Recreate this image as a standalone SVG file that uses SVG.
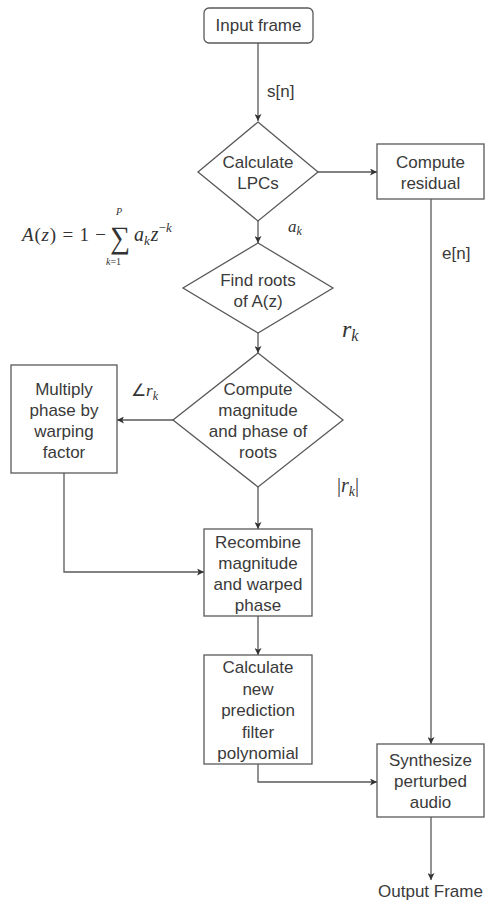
<svg xmlns="http://www.w3.org/2000/svg" width="488" height="901" viewBox="0 0 488 901">
<defs>
<marker id="arr" viewBox="0 0 10 10" refX="10" refY="5" markerWidth="7" markerHeight="7" markerUnits="userSpaceOnUse" orient="auto">
<path d="M0,0 L10,5 L0,10 L2.5,5 Z" fill="#333"/>
</marker>
</defs>
<style>
.n{fill:#fff;stroke:#595959;stroke-width:1.3}
.t{font-family:"Liberation Sans",Arial,sans-serif;font-size:17px;fill:#3a3a3a;text-anchor:middle;dominant-baseline:central}
.c{fill:none;stroke:#595959;stroke-width:1.3}
.m{font-family:"Liberation Serif","Times New Roman",serif;font-style:italic;fill:#333}
.mu{font-family:"Liberation Serif","Times New Roman",serif;font-style:normal;fill:#333}
</style>
<rect width="488" height="901" fill="#fff"/>
<g id="connectors">
<path class="c" d="M258,43 V121" marker-end="url(#arr)"/>
<path class="c" d="M318,172 H377" marker-end="url(#arr)"/>
<path class="c" d="M258,221 V243" marker-end="url(#arr)"/>
<path class="c" d="M258,333 V353" marker-end="url(#arr)"/>
<path class="c" d="M173,420 H117" marker-end="url(#arr)"/>
<path class="c" d="M258,487 V529" marker-end="url(#arr)"/>
<path class="c" d="M64,473 V572 H204" marker-end="url(#arr)"/>
<path class="c" d="M258,616 V655" marker-end="url(#arr)"/>
<path class="c" d="M258,764 V782 H377" marker-end="url(#arr)"/>
<path class="c" d="M431,199 V744" marker-end="url(#arr)"/>
<path class="c" d="M431,817 V880" marker-end="url(#arr)"/>
</g>
<g id="input">
<rect class="n" x="204" y="8" width="109" height="35" rx="5"/>
<text class="t" x="258.5" y="25.5">Input frame</text>
</g>
<g id="lpc">
<polygon class="n" points="258,122 318,172 258,221 198,172"/>
<text class="t" x="258" y="162">Calculate</text>
<text class="t" x="258" y="183">LPCs</text>
</g>
<g id="residual">
<rect class="n" x="377" y="144" width="107" height="55"/>
<text class="t" x="430.5" y="162">Compute</text>
<text class="t" x="430.5" y="183">residual</text>
</g>
<g id="roots">
<polygon class="n" points="258,243 333,288 258,333 183,288"/>
<text class="t" x="258" y="280">Find roots</text>
<text class="t" x="258" y="301">of A(z)</text>
</g>
<g id="magphase">
<polygon class="n" points="258,353 343,420 258,487 173,420"/>
<text class="t" x="258" y="389">Compute</text>
<text class="t" x="258" y="410">magnitude</text>
<text class="t" x="258" y="431">and phase of</text>
<text class="t" x="258" y="452">roots</text>
</g>
<g id="warp">
<rect class="n" x="11" y="365" width="106" height="108"/>
<text class="t" x="64" y="389">Multiply</text>
<text class="t" x="64" y="410">phase by</text>
<text class="t" x="64" y="431">warping</text>
<text class="t" x="64" y="452">factor</text>
</g>
<g id="recombine">
<rect class="n" x="204" y="529" width="108" height="87"/>
<text class="t" x="258" y="542">Recombine</text>
<text class="t" x="258" y="563">magnitude</text>
<text class="t" x="258" y="584">and warped</text>
<text class="t" x="258" y="605">phase</text>
</g>
<g id="newpoly">
<rect class="n" x="204" y="655" width="108" height="109"/>
<text class="t" x="258" y="667">Calculate</text>
<text class="t" x="258" y="689">new</text>
<text class="t" x="258" y="710">prediction</text>
<text class="t" x="258" y="732">filter</text>
<text class="t" x="258" y="753">polynomial</text>
</g>
<g id="synth">
<rect class="n" x="377" y="744" width="107" height="73"/>
<text class="t" x="430.5" y="760">Synthesize</text>
<text class="t" x="430.5" y="781">perturbed</text>
<text class="t" x="430.5" y="802">audio</text>
</g>
<g id="labels">
<text class="t" x="267" y="91" style="text-anchor:start">s[n]</text>
<text class="t" x="442" y="253" style="text-anchor:start">e[n]</text>
<text class="t" x="430.5" y="891">Output Frame</text>
<text class="m" x="288" y="232" font-size="17">a<tspan font-size="12" dy="3">k</tspan></text>
<text class="m" x="342" y="337" font-size="24">r<tspan font-size="16" dy="4">k</tspan></text>
<text class="m" x="131" y="396" font-size="17"><tspan class="mu">∠</tspan>r<tspan font-size="12" dy="4">k</tspan></text>
<text class="m" x="337" y="492" font-size="20"><tspan class="mu">|</tspan>r<tspan font-size="14" dy="4">k</tspan><tspan class="mu" dy="-4">|</tspan></text>
<text class="m" x="22" y="241" font-size="19" textLength="84" lengthAdjust="spacing">A<tspan class="mu">(</tspan>z<tspan class="mu">) = 1 −</tspan></text>
<text class="mu" x="110" y="248" font-size="31" textLength="20" lengthAdjust="spacingAndGlyphs">∑</text>
<text class="m" x="116" y="215" font-size="10">P</text>
<text class="m" x="106" y="265" font-size="10">k<tspan class="mu">=1</tspan></text>
<text class="m" x="134" y="241" font-size="20">a<tspan font-size="13" dy="4">k</tspan><tspan dy="-4" dx="1">z</tspan><tspan font-size="13" dy="-9"><tspan class="mu">−</tspan>k</tspan></text>
</g>
</svg>
